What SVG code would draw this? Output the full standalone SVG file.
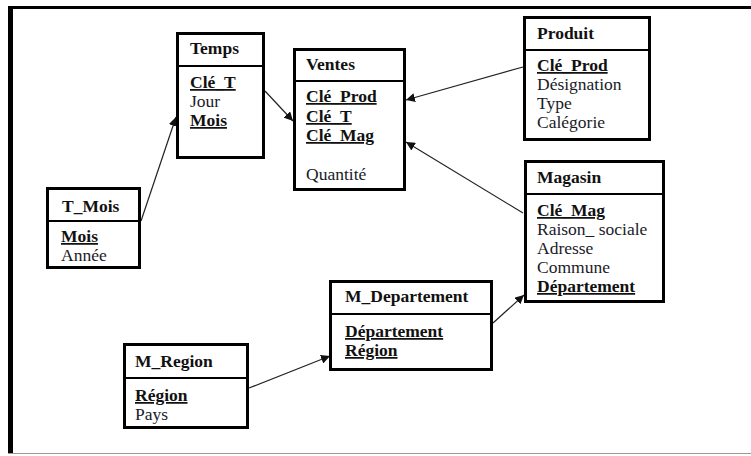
<svg xmlns="http://www.w3.org/2000/svg" width="751" height="456" viewBox="0 0 751 456">
  <style>
    .box { fill: #fff; stroke: #000; stroke-width: 3; }
    .sep { stroke: #000; stroke-width: 2; }
    .title { font-family: "Liberation Serif", "Times New Roman", serif; font-size: 17.5px; font-weight: bold; fill: #111; }
    .attr { font-family: "Liberation Serif", "Times New Roman", serif; font-size: 17.5px; fill: #1a1a28; }
    .key { font-weight: bold; text-decoration: underline; fill: #111; }
    .link { stroke: #222; stroke-width: 1.2; fill: none; marker-end: url(#arrow); }
  </style>
  <defs>
    <marker id="arrow" viewBox="0 0 10 10" refX="10" refY="5" markerWidth="9" markerHeight="9" markerUnits="userSpaceOnUse" orient="auto">
      <path d="M0,0 L10,5 L0,10 z" fill="#111"/>
    </marker>
  </defs>

  <rect width="751" height="456" fill="#fff"/>

  <!-- page frame -->
  <g id="frame">
    <line x1="10.5" y1="7.5" x2="751" y2="7.5" stroke="#000" stroke-width="3"/>
    <line x1="10.5" y1="6" x2="10.5" y2="454" stroke="#000" stroke-width="5"/>
    <line x1="8" y1="453.5" x2="751" y2="453.5" stroke="#999" stroke-width="1"/>
  </g>

  <!-- connectors -->
  <g id="connectors">
    <line class="link" x1="141" y1="221" x2="176" y2="117"/>
    <line class="link" x1="265" y1="91" x2="293" y2="121"/>
    <line class="link" x1="523" y1="67" x2="406" y2="100"/>
    <line class="link" x1="523" y1="213" x2="406" y2="142"/>
    <line class="link" x1="493" y1="323" x2="524" y2="295"/>
    <line class="link" x1="249" y1="388" x2="330" y2="356"/>
  </g>

  <g id="temps">
    <rect class="box" x="177.5" y="33.5" width="86" height="124"/>
    <line class="sep" x1="177.5" y1="66" x2="263.5" y2="66"/>
    <text class="title" x="190" y="54">Temps</text>
    <text class="attr key" x="190" y="88">Clé_T</text>
    <text class="attr" x="190" y="107">Jour</text>
    <text class="attr key" x="190" y="126">Mois</text>
  </g>

  <g id="ventes">
    <rect class="box" x="294.5" y="49.5" width="110" height="140"/>
    <line class="sep" x1="294.5" y1="81" x2="404.5" y2="81"/>
    <text class="title" x="306" y="70">Ventes</text>
    <text class="attr key" x="306" y="102">Clé_Prod</text>
    <text class="attr key" x="306" y="122">Clé_T</text>
    <text class="attr key" x="306" y="141">Clé_Mag</text>
    <text class="attr" x="306" y="180">Quantité</text>
  </g>

  <g id="t_mois">
    <rect class="box" x="47.5" y="188.5" width="92" height="79"/>
    <line class="sep" x1="47.5" y1="221" x2="139.5" y2="221"/>
    <text class="title" x="62" y="212">T_Mois</text>
    <text class="attr key" x="61" y="242">Mois</text>
    <text class="attr" x="61" y="261">Année</text>
  </g>

  <g id="produit">
    <rect class="box" x="524.5" y="17.5" width="125" height="122"/>
    <line class="sep" x1="524.5" y1="50" x2="649.5" y2="50"/>
    <text class="title" x="537" y="39">Produit</text>
    <text class="attr key" x="537" y="71">Clé_Prod</text>
    <text class="attr" x="537" y="90">Désignation</text>
    <text class="attr" x="537" y="109">Type</text>
    <text class="attr" x="537" y="128">Calégorie</text>
  </g>

  <g id="magasin">
    <rect class="box" x="525.5" y="161.5" width="138" height="140"/>
    <line class="sep" x1="525.5" y1="194" x2="663.5" y2="194"/>
    <text class="title" x="537" y="183">Magasin</text>
    <text class="attr key" x="537" y="216">Clé_Mag</text>
    <text class="attr" x="537" y="235">Raison_ sociale</text>
    <text class="attr" x="537" y="254">Adresse</text>
    <text class="attr" x="537" y="273">Commune</text>
    <text class="attr key" x="537" y="292">Département</text>
  </g>

  <g id="m_departement">
    <rect class="box" x="330.5" y="281.5" width="161" height="88"/>
    <line class="sep" x1="330.5" y1="314" x2="491.5" y2="314"/>
    <text class="title" x="345" y="302">M_Departement</text>
    <text class="attr key" x="345" y="337">Département</text>
    <text class="attr key" x="345" y="356">Région</text>
  </g>

  <g id="m_region">
    <rect class="box" x="124.5" y="344.5" width="123" height="83"/>
    <line class="sep" x1="124.5" y1="378" x2="247.5" y2="378"/>
    <text class="title" x="135" y="367">M_Region</text>
    <text class="attr key" x="135" y="401">Région</text>
    <text class="attr" x="135" y="420">Pays</text>
  </g>
</svg>
